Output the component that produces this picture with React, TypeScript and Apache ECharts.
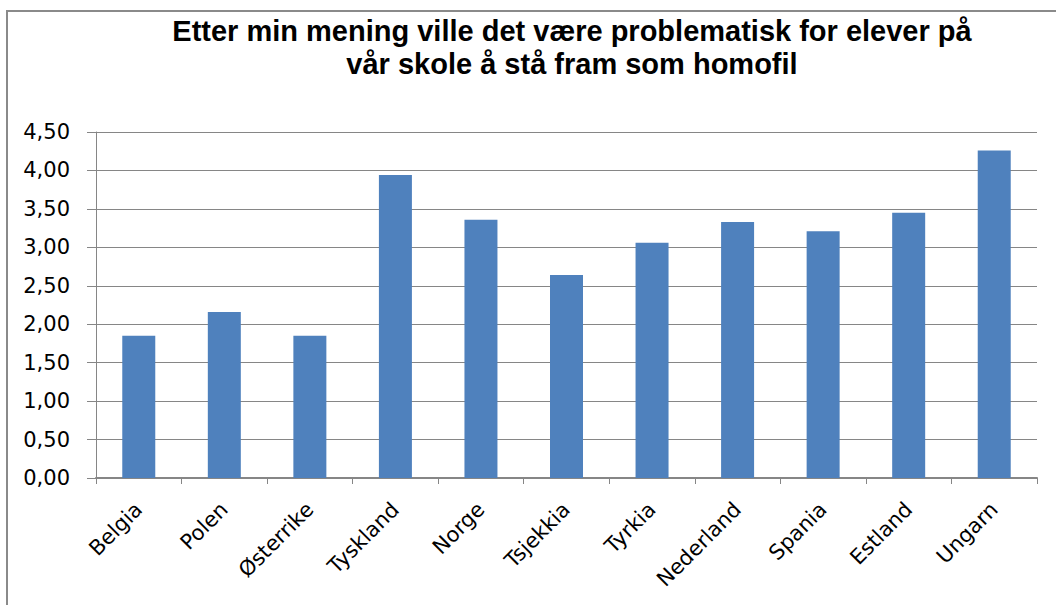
import React, { useEffect, useRef } from "react";
import * as echarts from "echarts";

const titleText = "Etter min mening ville det være problematisk for elever på\nvår skole å stå fram som homofil";
const categories = ["Belgia", "Polen", "Østerrike", "Tyskland", "Norge", "Tsjekkia", "Tyrkia", "Nederland", "Spania", "Estland", "Ungarn"];
const values = [1.85, 2.16, 1.85, 3.94, 3.36, 2.64, 3.06, 3.33, 3.21, 3.45, 4.26];
const yMin = 0;
const yMax = 4.5;
const yInterval = 0.5;

export default function App() {
  const ref = useRef<HTMLDivElement>(null);
  useEffect(() => {
    if (!ref.current) return;
    const chart = echarts.init(ref.current, undefined, { renderer: "svg" });
    chart.setOption({
      animation: false,
      backgroundColor: "#ffffff",
      title: {
        text: titleText,
        left: 567,
        top: 9,
        textAlign: "center",
        textStyle: {
          fontFamily: "Liberation Sans",
          fontWeight: "bold",
          fontSize: 29,
          lineHeight: 33,
          color: "#000000",
        },
      },
      graphic: [
        { type: "line", shape: { x1: 7, y1: 11, x2: 7, y2: 605 }, style: { stroke: "#8a8a8a", lineWidth: 2 } },
        { type: "line", shape: { x1: 6, y1: 11, x2: 1056, y2: 11 }, style: { stroke: "#8a8a8a", lineWidth: 2 } },
      ],
      grid: { left: 96, right: 19, top: 132, bottom: 127, containLabel: false },
      xAxis: {
        type: "category",
        data: categories,
        boundaryGap: true,
        axisLine: { show: true, lineStyle: { color: "#868686", width: 2 } },
        axisTick: { show: true, length: 6, alignWithLabel: false, lineStyle: { color: "#868686", width: 1 } },
        axisLabel: {
          rotate: 45,
          interval: 0,
          margin: 28,
          fontFamily: "DejaVu Sans",
          fontSize: 21,
          color: "#000000",
        },
        splitLine: { show: false },
      },
      yAxis: {
        type: "value",
        min: yMin,
        max: yMax,
        interval: yInterval,
        axisLine: { show: true, lineStyle: { color: "#868686", width: 1 } },
        axisTick: { show: true, length: 9, lineStyle: { color: "#868686", width: 1 } },
        axisLabel: {
          margin: 26,
          fontFamily: "DejaVu Sans",
          fontSize: 21,
          color: "#000000",
          formatter: (v: number) => v.toFixed(2).replace(".", ","),
        },
        splitLine: { show: true, lineStyle: { color: "#868686", width: 1 } },
      },
      series: [
        {
          type: "bar",
          data: values,
          barWidth: 33,
          itemStyle: { color: "#4F81BD" },
        },
      ],
    });
    return () => chart.dispose();
  }, []);
  return (
    <div
      ref={ref}
      style={{ position: "fixed", left: 0, top: 0, width: 1056, height: 605 }}
    />
  );
}
